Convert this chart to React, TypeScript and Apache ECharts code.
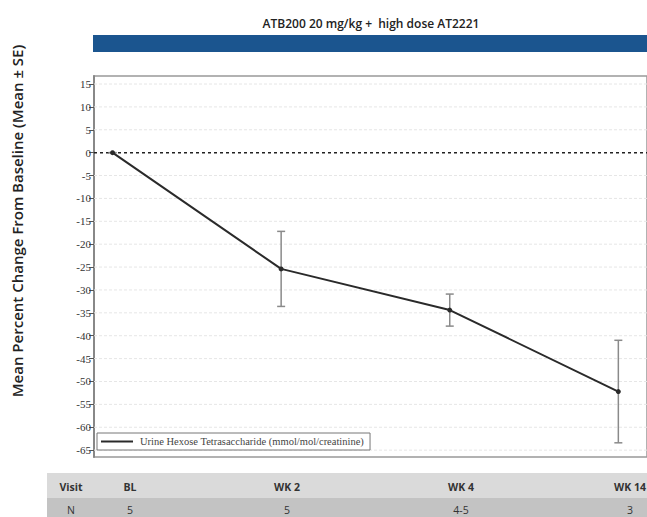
import React, { useEffect, useRef } from "react";
import * as echarts from "echarts";

const title = "ATB200 20 mg/kg +  high dose AT2221";
const yTitle = "Mean Percent Change From Baseline (Mean \u00b1 SE)";
const seriesName = "Urine Hexose Tetrasaccharide (mmol/mol/creatinine)";
const visits = ["BL", "WK 2", "WK 4", "WK 14"];
const nCounts = ["5", "5", "4-5", "3"];
const meanChange = [0, -25.4, -34.4, -52.2];
const seChange = [0, 8.2, 3.5, 11.2];
const yTicks = [15, 10, 5, 0, -5, -10, -15, -20, -25, -30, -35, -40, -45, -50, -55, -60, -65];

const tableColX = [130, 287, 461, 630];

export default function App() {
  const ref = useRef<HTMLDivElement>(null);
  useEffect(() => {
    document.body.style.margin = "0";
    const chart = echarts.init(ref.current!, null, { renderer: "svg" });
    const lineData = meanChange.map((v, i) => [i, v]);
    const errData = meanChange.map((v, i) => [i, v - seChange[i], v + seChange[i]]);
    const gridData = yTicks.map((t) => [0, t]);
    const sans = "Open Sans";
    const serif = "Liberation Serif";

    const graphics: any[] = [
      {
        type: "text",
        x: 371,
        y: 23,
        style: {
          text: title,
          font: `600 12px '${sans}'`,
          fill: "#222",
          align: "center",
          verticalAlign: "middle",
        },
      },
      {
        type: "rect",
        shape: { x: 93, y: 35, width: 560, height: 17 },
        style: { fill: "#1b558f" },
      },
      {
        type: "text",
        x: 17,
        y: 221,
        rotation: Math.PI / 2,
        style: {
          text: yTitle,
          font: `600 15px '${sans}'`,
          fill: "#222",
          align: "center",
          verticalAlign: "middle",
        },
      },
      {
        type: "rect",
        shape: { x: 47, y: 473, width: 610, height: 25 },
        style: { fill: "#dadada" },
      },
      {
        type: "rect",
        shape: { x: 47, y: 498, width: 610, height: 20 },
        style: { fill: "#c3c3c3" },
      },
      {
        type: "text",
        x: 71,
        y: 487,
        style: { text: "Visit", font: `700 10.5px '${sans}'`, fill: "#333", align: "center", verticalAlign: "middle" },
      },
      {
        type: "text",
        x: 71,
        y: 510,
        style: { text: "N", font: `400 10.5px '${sans}'`, fill: "#333", align: "center", verticalAlign: "middle" },
      },
    ];
    visits.forEach((v, i) => {
      graphics.push({
        type: "text",
        x: tableColX[i],
        y: 487,
        style: { text: v, font: `700 10.5px '${sans}'`, fill: "#333", align: "center", verticalAlign: "middle" },
      });
      graphics.push({
        type: "text",
        x: tableColX[i],
        y: 510,
        style: { text: nCounts[i], font: `400 10.5px '${sans}'`, fill: "#333", align: "center", verticalAlign: "middle" },
      });
    });

    chart.setOption({
      animation: false,
      grid: {
        left: 94,
        top: 76,
        right: -12,
        bottom: 60,
        show: true,
        borderColor: "#999",
        borderWidth: 1.5,
        backgroundColor: "#fff",
      },
      xAxis: {
        type: "value",
        min: -0.11,
        max: 3.17,
        show: false,
        splitLine: { show: false },
      },
      yAxis: {
        type: "value",
        min: -66.5,
        max: 16.75,
        axisLine: { show: true, onZero: false, lineStyle: { color: "#888", width: 2 } },
        axisTick: {
          show: true,
          length: 5,
          customValues: yTicks,
          lineStyle: { color: "#555" },
        },
        axisLabel: {
          customValues: yTicks,
          fontFamily: serif,
          fontSize: 11,
          color: "#333",
          margin: 3,
        },
        splitLine: { show: false },
      },
      legend: {
        data: [seriesName],
        left: 97,
        top: 433,
        orient: "horizontal",
        icon: "rect",
        itemWidth: 32,
        itemHeight: 2,
        itemGap: 4,
        padding: [3, 6, 3, 4],
        borderColor: "#777",
        borderWidth: 1,
        backgroundColor: "#fff",
        textStyle: { fontFamily: serif, fontSize: 10.5, color: "#444", padding: [0, 0, 0, 2] },
      },
      graphic: graphics,
      series: [
        {
          type: "custom",
          name: "gridlines",
          data: gridData,
          silent: true,
          z: 1,
          renderItem: (params: any, api: any) => {
            const cs = params.coordSys;
            const y = api.coord([0, api.value(1)])[1];
            const isZero = api.value(1) === 0;
            return {
              type: "line",
              shape: { x1: cs.x, y1: y, x2: cs.x + cs.width, y2: y },
              style: isZero
                ? { stroke: "#222", lineWidth: 1.5, lineDash: [3, 3] }
                : { stroke: "#e6e6e6", lineWidth: 1, lineDash: [3, 2] },
              z2: isZero ? 10 : 0,
            };
          },
        },
        {
          type: "custom",
          name: "se",
          data: errData,
          z: 3,
          renderItem: (params: any, api: any) => {
            const x = api.value(0);
            const lo = api.coord([x, api.value(1)]);
            const hi = api.coord([x, api.value(2)]);
            const cap = 4;
            return {
              type: "group",
              children: [
                { type: "line", shape: { x1: lo[0], y1: lo[1], x2: hi[0], y2: hi[1] }, style: { stroke: "#8a8a8a", lineWidth: 1.5 } },
                { type: "line", shape: { x1: lo[0] - cap, y1: lo[1], x2: lo[0] + cap, y2: lo[1] }, style: { stroke: "#8a8a8a", lineWidth: 1.5 } },
                { type: "line", shape: { x1: hi[0] - cap, y1: hi[1], x2: hi[0] + cap, y2: hi[1] }, style: { stroke: "#8a8a8a", lineWidth: 1.5 } },
              ],
            };
          },
        },
        {
          type: "line",
          name: seriesName,
          data: lineData,
          z: 4,
          symbol: "circle",
          symbolSize: 5,
          itemStyle: { color: "#2a2a2a" },
          lineStyle: { color: "#2a2a2a", width: 2 },
        },
      ],
    });
    return () => chart.dispose();
  }, []);
  return <div ref={ref} style={{ width: 647, height: 517 }} />;
}
